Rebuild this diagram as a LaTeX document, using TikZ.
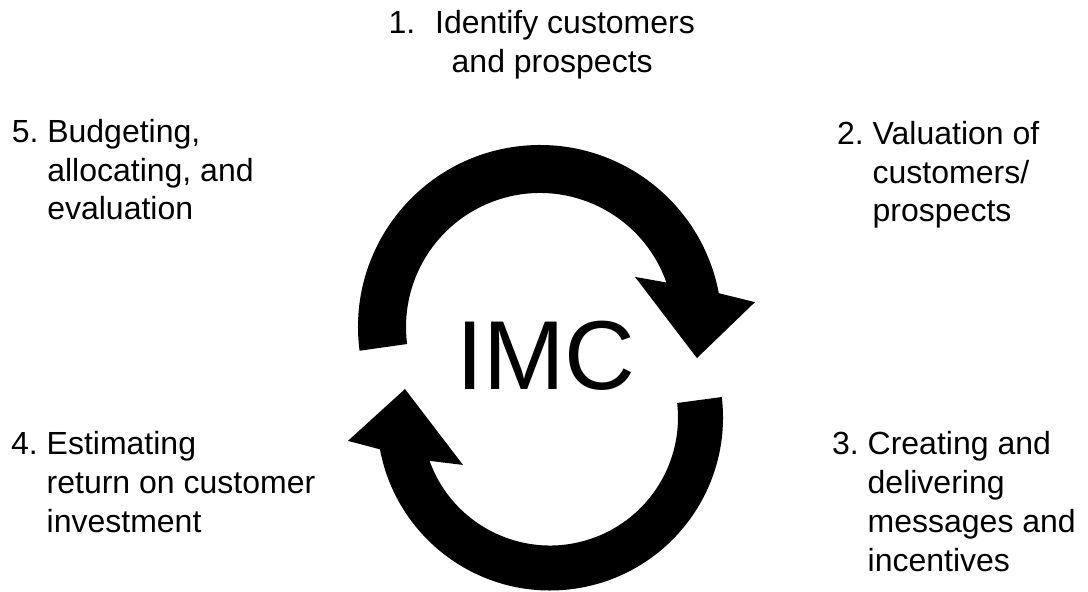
\documentclass[tikz,border=0pt]{standalone}
\usepackage{fontspec}
\setmainfont{Liberation Sans}
\newcommand\stepno[1]{\makebox[35.5pt][l]{#1}}
\begin{document}
\begin{tikzpicture}[x=1pt,y=1pt,
  lbl/.style={inner sep=0pt, anchor=base west, font=\fontsize{32}{38.7}\selectfont},
  bigarrow/.style={fill=black}]
\useasboundingbox (0,0) rectangle (1088,592);

% upper curved arrow, turning clockwise over the top
\begin{scope}[shift={(540,265)}]
  \fill[bigarrow] (187.5:182pt) arc[start angle=187.5, end angle=10.7, radius=182pt]
    -- (6.6:216.4pt) -- (-11.2:160pt) -- (27.8:107.4pt)
    -- (19.4:134pt) arc[start angle=19.4, end angle=187.3, radius=134pt] -- cycle;
\end{scope}

% lower curved arrow, turning clockwise under the bottom
\begin{scope}[shift={(550,174.5)}]
  \fill[bigarrow] (6.8:173pt) arc[start angle=6.8, end angle=-169.4, radius=173pt]
    -- (186.6:203.4pt) -- (168.9:147.8pt) -- (208.6:99.1pt)
    -- (199.8:128pt) arc[start angle=199.8, end angle=366.5, radius=128pt] -- cycle;
\end{scope}

% centre title
\node[inner sep=0pt, anchor=base west, font=\fontsize{98}{98}\selectfont] (imc) at (455.8,202) {IMC};

% the five steps
\node[lbl] (s1) at (388.5,558) {\begin{tabular}[t]{@{}l@{}}\makebox[46.5pt][l]{1.}Identify customers\\\hspace*{63pt}and prospects\end{tabular}};
\node[lbl] (s2) at (837,447.5) {\begin{tabular}[t]{@{}l@{}l@{}}\stepno{2.} & Valuation of\\ & customers/\\ & prospects\end{tabular}};
\node[lbl] (s3) at (832,137) {\begin{tabular}[t]{@{}l@{}l@{}}\stepno{3.} & Creating and\\ & delivering\\ & messages and\\ & incentives\end{tabular}};
\node[lbl] (s4) at (11,137) {\begin{tabular}[t]{@{}l@{}l@{}}\stepno{4.} & Estimating\\ & return on customer\\ & investment\end{tabular}};
\node[lbl] (s5) at (11.6,449.5) {\begin{tabular}[t]{@{}l@{}l@{}}\stepno{5.} & Budgeting,\\ & allocating, and\\ & evaluation\end{tabular}};
\end{tikzpicture}
\end{document}
